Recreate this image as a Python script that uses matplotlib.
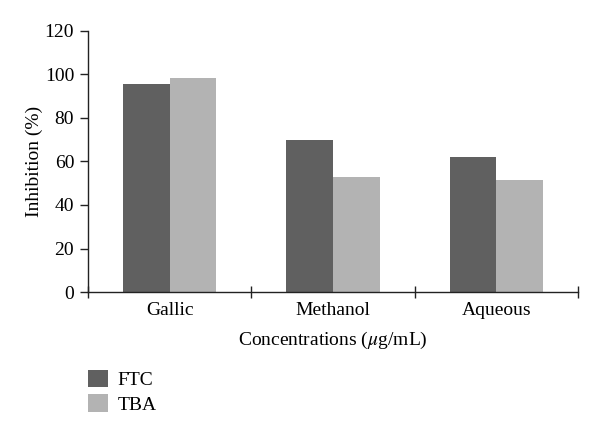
import matplotlib.pyplot as plt
import numpy as np

plt.rcParams['font.family'] = ['Liberation Serif', 'DejaVu Serif']
plt.rcParams['mathtext.fontset'] = 'stix'

categories = ['Gallic', 'Methanol', 'Aqueous']
ftc = [95.6, 69.9, 62.1]
tba = [98.5, 52.9, 51.5]

fig = plt.figure(figsize=(6, 4.38), dpi=100)
ax = fig.add_axes([0.1467, 0.3333, 0.8167, 0.596])

x = np.arange(len(categories))
w = 0.285
ax.bar(x - w/2, ftc, w, color='#606060', label='FTC')
ax.bar(x + w/2, tba, w, color='#b3b3b3', label='TBA')

ax.set_xlim(-0.5, 2.5)
ax.set_ylim(0, 120)
ax.set_yticks(range(0, 121, 20))
ax.set_xticks(x)
ax.set_xticklabels(categories, fontsize=14)
ax.set_xticks(np.arange(-0.5, 2.6, 1), minor=True)
ax.tick_params(axis='x', which='major', length=0, pad=7)
ax.tick_params(axis='x', which='minor', direction='inout', length=8, width=1, color='#222222')
ax.tick_params(axis='y', direction='out', length=6, width=1, color='#222222', labelsize=14, pad=4)

for s in ['top', 'right']:
    ax.spines[s].set_visible(False)
for s in ['left', 'bottom']:
    ax.spines[s].set_color('#222222')
    ax.spines[s].set_linewidth(1)

ax.set_ylabel('Inhibition (%)', fontsize=14, labelpad=1)
ax.set_xlabel('Concentrations ($\\mu$g/mL)', fontsize=14, labelpad=8)

fig.legend(loc='upper left', bbox_to_anchor=(0.118, 0.195), frameon=False, fontsize=14,
           handlelength=1.0, handleheight=1.0, handletextpad=0.5, labelspacing=0.25)

fig.savefig('out.png', dpi=100)
